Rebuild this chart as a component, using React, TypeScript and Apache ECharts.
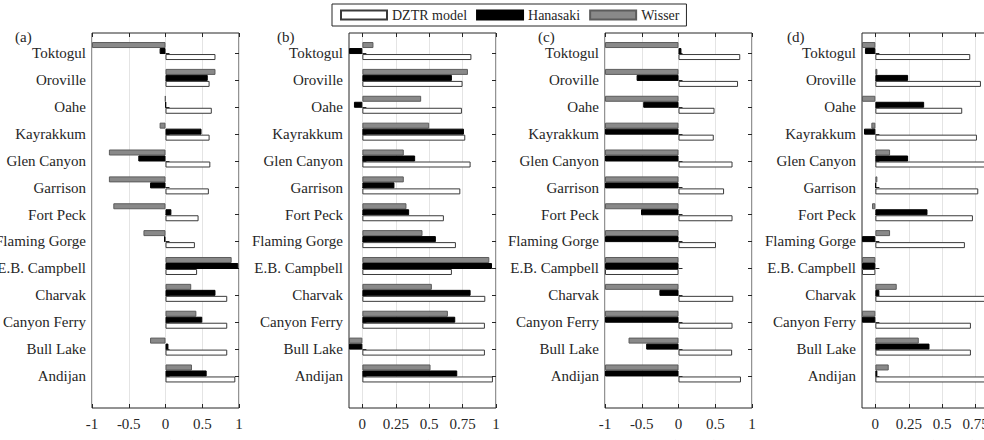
import React, { useEffect, useRef } from 'react';
import * as echarts from 'echarts';

// Reservoirs, listed top to bottom
const reservoirs = [
  'Toktogul', 'Oroville', 'Oahe', 'Kayrakkum', 'Glen Canyon', 'Garrison', 'Fort Peck',
  'Flaming Gorge', 'E.B. Campbell', 'Charvak', 'Canyon Ferry', 'Bull Lake', 'Andijan',
];

const modelNames = ['DZTR model', 'Hanasaki', 'Wisser'];

// (a) NSE of release
const dztrNseOut = [0.68, 0.6, 0.63, 0.6, 0.61, 0.59, 0.45, 0.4, 0.43, 0.84, 0.84, 0.84, 0.95];
const hanasakiNseOut = [-0.08, 0.575, 0.005, 0.49, -0.37, -0.21, 0.08, -0.02, 0.99, 0.68, 0.5, 0.04, 0.56];
const wisserNseOut = [-1.0, 0.68, -0.005, -0.08, -0.77, -0.77, -0.71, -0.3, 0.9, 0.35, 0.42, -0.21, 0.36];

// (b) KGE of release
const dztrKgeOut = [0.816, 0.75, 0.745, 0.77, 0.81, 0.733, 0.61, 0.7, 0.67, 0.92, 0.917, 0.917, 0.977];
const hanasakiKgeOut = [-0.1, 0.67, -0.063, 0.76, 0.395, 0.24, 0.35, 0.55, 0.97, 0.81, 0.695, -0.1, 0.71];
const wisserKgeOut = [0.083, 0.79, 0.44, 0.5, 0.31, 0.31, 0.33, 0.45, 0.95, 0.52, 0.64, -0.1, 0.51];

// (c) NSE of storage
const dztrNseSto = [0.84, 0.81, 0.49, 0.48, 0.735, 0.62, 0.735, 0.51, -1, 0.745, 0.735, 0.73, 0.85];
const hanasakiNseSto = [0.04, -0.57, -0.48, -1, -1, -1, -0.51, -1, -1, -0.26, -1, -0.44, -1];
const wisserNseSto = [-1, -1, -1, -1, -1, -1, -1, -1, -1, -1, -1, -0.68, -1];

// (d) KGE of storage
const dztrKgeSto = [0.71, 0.79, 0.65, 0.76, 0.86, 0.77, 0.73, 0.67, -0.1, 0.88, 0.715, 0.715, 0.9];
const hanasakiKgeSto = [-0.078, 0.245, 0.365, -0.085, 0.245, 0.005, 0.39, -0.1, -0.1, 0.03, -0.1, 0.405, 0.015];
const wisserKgeSto = [-0.1, 0.015, -0.1, -0.03, 0.11, 0.015, -0.025, 0.11, -0.1, 0.16, -0.1, 0.325, 0.1];

const nseTicks = [-1, -0.5, 0, 0.5, 1];
const kgeTicks = [0, 0.25, 0.5, 0.75, 1];

const FONT = 'Liberation Serif';
const INK = '#262626';

type Panel = {
  letter: string;
  metric: string;
  sub: string;
  dztr: number[];
  hanasaki: number[];
  wisser: number[];
  min: number;
  max: number;
  ticks: number[];
  left: number;
  letterX: number;
};

const panels: Panel[] = [
  { letter: '(a)', metric: 'NSE', sub: 'out', dztr: dztrNseOut, hanasaki: hanasakiNseOut, wisser: wisserNseOut, min: -1, max: 1, ticks: nseTicks, left: 92, letterX: 15 },
  { letter: '(b)', metric: 'KGE', sub: 'out', dztr: dztrKgeOut, hanasaki: hanasakiKgeOut, wisser: wisserKgeOut, min: -0.1, max: 1, ticks: kgeTicks, left: 349, letterX: 277 },
  { letter: '(c)', metric: 'NSE', sub: 'storage', dztr: dztrNseSto, hanasaki: hanasakiNseSto, wisser: wisserNseSto, min: -1, max: 1, ticks: nseTicks, left: 605, letterX: 538 },
  { letter: '(d)', metric: 'KGE', sub: 'storage', dztr: dztrKgeSto, hanasaki: hanasakiKgeSto, wisser: wisserKgeSto, min: -0.1, max: 1, ticks: kgeTicks, left: 862, letterX: 787 },
];

// The figure is wider than the window; the last panel runs past the right edge.
const CANVAS_W = 1030;
const CANVAS_H = 440;
const PANEL_W = 147;
const FRAME_TOP = 33;
const FRAME_H = 375;
const BAND_H = 349.3;
const LABEL_TOP = 39.9;
const BAR_TOP = 37.6;

const styles: Record<string, any> = {
  'DZTR model': { color: '#ffffff', borderColor: '#3a3a3a', borderWidth: 1 },
  Hanasaki: { color: '#000000', borderColor: '#000000', borderWidth: 1 },
  Wisser: { color: '#898989', borderColor: '#5c5c5c', borderWidth: 1 },
};

// Grids keep the exact rectangles given, even when labels run past the canvas
const fixedRect = { containLabel: false, outerBoundsMode: 'none' };

function buildOption() {
  const grid: any[] = [];
  const xAxis: any[] = [];
  const yAxis: any[] = [];
  const series: any[] = [];
  const graphic: any[] = [];

  panels.forEach((p, i) => {
    const g = i * 3;
    grid.push(
      { ...fixedRect, left: p.left, width: PANEL_W, top: BAR_TOP, height: BAND_H },
      { ...fixedRect, left: p.left, width: PANEL_W, top: LABEL_TOP, height: BAND_H },
      {
        ...fixedRect,
        left: p.left, width: PANEL_W, top: FRAME_TOP, height: FRAME_H,
        show: true, borderColor: INK, borderWidth: 1, backgroundColor: 'transparent',
      },
    );

    xAxis.push(
      { gridIndex: g, type: 'value', min: p.min, max: p.max, show: false },
      { gridIndex: g + 1, type: 'value', min: p.min, max: p.max, show: false },
      {
        gridIndex: g + 2, type: 'value', position: 'bottom', min: p.min, max: p.max,
        axisLine: { show: false },
        axisTick: { show: true, inside: true, length: 4, customValues: p.ticks, lineStyle: { color: INK } },
        axisLabel: {
          fontFamily: FONT, fontSize: 15, color: INK, margin: 8,
          customValues: p.ticks,
          formatter: (v: number) => String(v),
        },
        splitLine: { show: true, lineStyle: { color: '#e4e4e4', width: 1 } },
      },
      {
        gridIndex: g + 2, type: 'value', position: 'top', min: p.min, max: p.max,
        axisLine: { show: false },
        axisTick: { show: true, inside: true, length: 4, customValues: p.ticks, lineStyle: { color: INK } },
        axisLabel: { show: false, customValues: p.ticks },
        splitLine: { show: false },
      },
    );

    yAxis.push(
      { gridIndex: g, type: 'category', data: reservoirs, inverse: true, show: false },
      {
        gridIndex: g + 1, type: 'category', data: reservoirs, inverse: true, position: 'left',
        axisLine: { show: false },
        axisTick: { show: true, inside: true, alignWithLabel: true, length: 4, lineStyle: { color: INK } },
        axisLabel: { fontFamily: FONT, fontSize: 15, color: INK, margin: 6, hideOverlap: false },
        splitLine: { show: false },
      },
      {
        gridIndex: g + 1, type: 'category', data: reservoirs, inverse: true, position: 'right',
        axisLine: { show: false },
        axisTick: { show: true, inside: true, alignWithLabel: true, length: 4, lineStyle: { color: INK } },
        axisLabel: { show: false },
        splitLine: { show: false },
      },
      { gridIndex: g + 2, type: 'value', min: 0, max: 1, show: false },
    );

    const byName: Record<string, number[]> = {
      'DZTR model': p.dztr,
      Hanasaki: p.hanasaki,
      Wisser: p.wisser,
    };
    // Wisser above, Hanasaki in the middle, DZTR below within each group
    ['Wisser', 'Hanasaki', 'DZTR model'].forEach((name) => {
      series.push({
        type: 'bar',
        name,
        xAxisIndex: i * 4,
        yAxisIndex: i * 4,
        data: byName[name],
        barWidth: 6,
        barGap: '0%',
        itemStyle: styles[name],
        emphasis: { disabled: true },
      });
    });

    graphic.push({
      type: 'text',
      x: p.letterX,
      y: 29,
      style: { text: p.letter, fontFamily: FONT, fontSize: 15, fill: INK },
    });
    graphic.push({
      type: 'text',
      x: p.left + PANEL_W / 2,
      y: 436,
      style: {
        text: `${p.metric} (S{s|${p.sub}})`,
        fontFamily: FONT,
        fontSize: 15,
        fill: INK,
        align: 'center',
        verticalAlign: 'top',
        rich: { s: { fontSize: 10, fontFamily: FONT, fill: INK, padding: [8, 0, 0, 0] } },
      },
    });
  });

  return {
    animation: false,
    backgroundColor: '#ffffff',
    legend: {
      data: modelNames,
      left: 332,
      top: 4,
      icon: 'rect',
      itemWidth: 46,
      itemHeight: 9,
      itemGap: 9,
      padding: [4, 7, 4, 8],
      borderColor: INK,
      borderWidth: 1,
      selectedMode: false,
      textStyle: { fontFamily: FONT, fontSize: 14, color: INK },
    },
    grid,
    xAxis,
    yAxis,
    series,
    graphic,
  };
}

export default function App() {
  const ref = useRef<HTMLDivElement>(null);
  useEffect(() => {
    if (!ref.current) return;
    const chart = echarts.init(ref.current, undefined, { renderer: 'svg' });
    chart.setOption(buildOption() as any);
    return () => chart.dispose();
  }, []);
  return (
    <div style={{ position: 'fixed', left: 0, top: 0, width: 984, height: CANVAS_H, overflow: 'hidden', background: '#fff' }}>
      <div ref={ref} style={{ width: CANVAS_W, height: CANVAS_H }} />
    </div>
  );
}
